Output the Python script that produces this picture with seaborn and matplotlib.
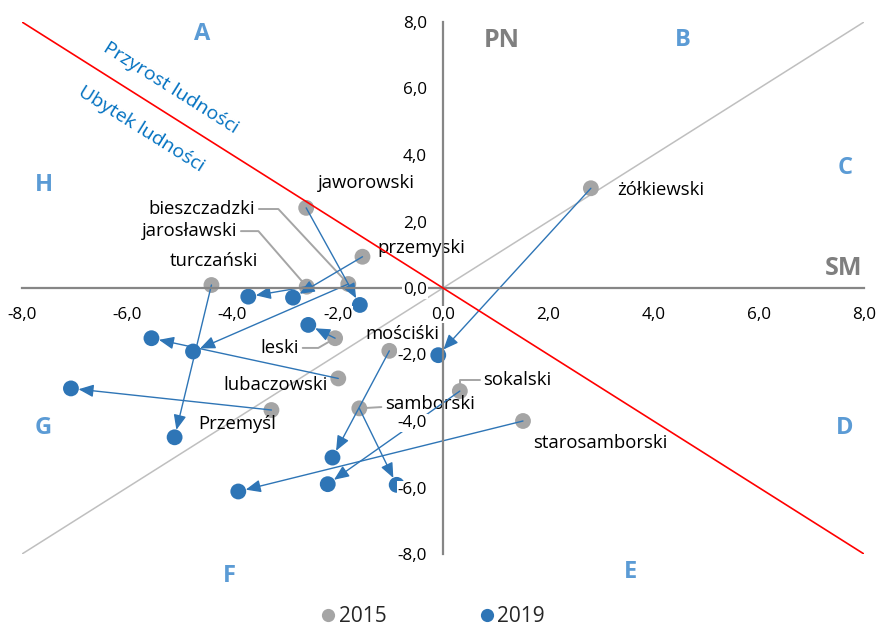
import matplotlib
matplotlib.use("Agg")
import matplotlib.pyplot as plt
from matplotlib.lines import Line2D
from matplotlib.ticker import FuncFormatter
import seaborn as sns
import pandas as pd
import numpy as np

# powiaty and their positions in 2015 and 2019
powiaty = ['jaworowski', 'bieszczadzki', 'jarosławski', 'przemyski', 'turczański',
           'leski', 'mościśki', 'lubaczowski', 'Przemyśl', 'samborski', 'sokalski',
           'starosamborski', 'żółkiewski']
x2015 = [-2.60, -1.80, -2.59, -1.53, -4.40, -2.05, -1.02, -1.99, -3.26, -1.59, 0.32, 1.52, 2.81]
y2015 = [2.41, 0.12, 0.04, 0.94, 0.09, -1.51, -1.89, -2.72, -3.67, -3.62, -3.10, -4.00, 3.00]
x2019 = [-1.58, -4.75, -3.70, -2.85, -5.10, -2.56, -2.10, -5.54, -7.07, -0.88, -2.19, -3.89, -0.09]
y2019 = [-0.51, -1.91, -0.26, -0.29, -4.49, -1.11, -5.10, -1.51, -3.02, -5.92, -5.90, -6.12, -2.02]
lata = ['2015', '2019']
ticks = np.arange(-8, 9, 2)

# quadrant letters
sektory = ['A', 'B', 'C', 'D', 'E', 'F', 'G', 'H']

GRAY = '#A5A5A5'
BLUE = '#2E75B6'
AXIS = '#868686'

# label layout: offset (points) from 2015 point, alignment, leader style
label_layout = {
    'jaworowski': ((43, 18), 'center', None),
    'bieszczadzki': ((-67, 54), 'right', 'angle,angleA=0,angleB=-47,rad=0'),
    'jarosławski': ((-50, 40), 'right', 'angle,angleA=0,angleB=-49,rad=0'),
    'przemyski': ((11, 6), 'left', None),
    'turczański': ((2, 17), 'center', None),
    'leski': ((-26, -7), 'right', 'angle,angleA=0,angleB=30,rad=0'),
    'mościśki': ((9, 12), 'center', None),
    'lubaczowski': ((-45, -5), 'center', None),
    'Przemyśl': ((-25, -10), 'center', None),
    'samborski': ((18.5, 3), 'left', 'arc3'),
    'sokalski': ((17, 8), 'left', 'angle,angleA=0,angleB=90,rad=0'),
    'starosamborski': ((7, -16), 'left', None),
    'żółkiewski': ((19, -1), 'left', None),
}
sektor_pos = [(-4.58, 7.64), (4.55, 7.46), (7.64, 3.61), (7.64, -4.21),
              (3.56, -8.55), (-4.05, -8.66), (-7.59, -4.21), (-7.59, 3.10)]

sns.set_theme(style='white')
plt.rcParams['font.family'] = ['Open Sans', 'DejaVu Sans']

df = pd.DataFrame({
    'x': x2015 + x2019,
    'y': y2015 + y2019,
    'rok': [lata[0]] * len(powiaty) + [lata[1]] * len(powiaty),
})

fig = plt.figure(figsize=(8.77, 6.27), dpi=100)
ax = fig.add_axes([22 / 877, 73 / 627, 842 / 877, 532 / 627])

# reference lines
ax.axline((0, 0), slope=1, color='#BFBFBF', lw=1.1, zorder=0.8)
ax.axline((0, 0), slope=-1, color='#FF0000', lw=1.2, zorder=2.6)

sns.scatterplot(data=df, x='x', y='y', hue='rok', palette={lata[0]: GRAY, lata[1]: BLUE},
                s=130, edgecolor='none', linewidth=0, legend=False, ax=ax, zorder=1)

# arrows 2015 -> 2019
for i in range(len(powiaty)):
    ax.annotate('', xy=(x2019[i], y2019[i]), xytext=(x2015[i], y2015[i]),
                arrowprops=dict(arrowstyle='-|>,head_length=0.9,head_width=0.38',
                                mutation_scale=10, color=BLUE, lw=1.0,
                                shrinkA=0, shrinkB=5.5),
                zorder=2)

# data labels
for i, name in enumerate(powiaty):
    off, ha, leader = label_layout[name]
    props = None
    if leader:
        props = dict(arrowstyle='-', color=GRAY, lw=1.4, connectionstyle=leader,
                     shrinkA=0, shrinkB=0)
    ax.annotate(name, xy=(x2015[i], y2015[i]), xytext=off, textcoords='offset points',
                ha=ha, va='center', fontsize=13.3, color='black',
                bbox=dict(boxstyle='square,pad=0.2', fc='none', ec='none'),
                arrowprops=props, zorder=1.8)

for s, (sx, sy) in zip(sektory, sektor_pos):
    ax.text(sx, sy, s, color='#5B9BD5', fontsize=17, fontweight='bold',
            ha='center', va='center')
ax.text(1.12, 7.43, 'PN', color='#7F7F7F', fontsize=18, fontweight='bold',
        ha='center', va='center')
ax.text(7.96, 0.60, 'SM', color='#7F7F7F', fontsize=18, fontweight='bold',
        ha='right', va='center')
ax.text(-5.17, 6.02, 'Przyrost ludności', color='#0070C0', fontsize=14,
        rotation=-32.2, rotation_mode='anchor', ha='center', va='center')
ax.text(-5.74, 4.78, 'Ubytek ludności', color='#0070C0', fontsize=14,
        rotation=-32.2, rotation_mode='anchor', ha='center', va='center')

# axes through the origin
ax.set_xlim(-8, 8)
ax.set_ylim(-8, 8)
ax.set_xticks(ticks)
ax.set_yticks(ticks)
fmt = FuncFormatter(lambda v, p: f'{v:.1f}'.replace('.', ','))
ax.xaxis.set_major_formatter(fmt)
ax.yaxis.set_major_formatter(fmt)
for side in ['top', 'right']:
    ax.spines[side].set_visible(False)
for side in ['left', 'bottom']:
    ax.spines[side].set_position('zero')
    ax.spines[side].set_color(AXIS)
    ax.spines[side].set_linewidth(1.6)
ax.tick_params(direction='inout', length=9, width=1.5, color=AXIS,
               labelsize=12.3, labelcolor='black')
ax.tick_params(axis='x', pad=9)
ax.tick_params(axis='y', pad=7)
ax.set_xlabel('')
ax.set_ylabel('')
ax.set_axisbelow(False)
for lab in ax.get_xticklabels() + ax.get_yticklabels():
    lab.set_bbox(dict(facecolor='white', edgecolor='none', pad=0.5))

handles = [Line2D([], [], marker='o', ls='', markersize=9.5, color=GRAY, markeredgewidth=0),
           Line2D([], [], marker='o', ls='', markersize=9.5, color=BLUE, markeredgewidth=0)]
fig.legend(handles, lata, loc='center', bbox_to_anchor=(0.493, 0.016), ncol=2,
           frameon=False, fontsize=15, handlelength=0.8, handletextpad=0.1,
           columnspacing=4.4)

fig.savefig('out.png', dpi=100)
